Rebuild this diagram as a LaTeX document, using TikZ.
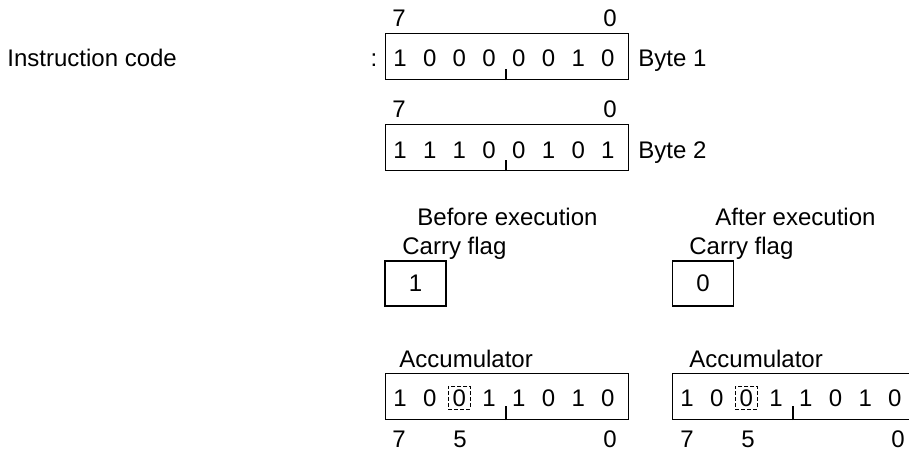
\documentclass[tikz,border=0pt]{standalone}
\usepackage{fontspec}
\setmainfont{Liberation Sans}
\usetikzlibrary{positioning}

\begin{document}
\begin{tikzpicture}[
    x=0.5pt, y=-0.5pt,
    font=\fontsize{12}{14}\selectfont,
    regbox/.style={draw, line width=0.6pt, anchor=north west, minimum width=121.25pt, minimum height=23pt, inner sep=0pt},
    flagbox/.style={draw, line width=0.6pt, minimum width=30.5pt, minimum height=22.5pt, inner sep=0pt},
    bit/.style={anchor=base, inner sep=0pt},
    txt/.style={anchor=base west, inner sep=0pt},
    markbox/.style={draw, dashed, dash pattern=on 2pt off 1pt, line width=0.5pt, minimum width=11pt, minimum height=11.5pt, inner sep=0pt},
    tick/.style={line width=0.6pt}
]
\useasboundingbox (0,0) rectangle (909,450);

% Instruction code, byte 1
\node[txt] (instr) at (7,66) {Instruction code};
\node[bit] (colon) at (374,66) {:};
\node[regbox] (byte1) at (385,33) {};
\node[bit] (b1hi) at (399,26) {7};
\node[bit] (b1lo) at (610,26) {0};
\foreach \b [count=\i from 0] in {1,0,0,0,0,0,1,0}
    \node[bit] (b1-\i) at (400+\i*29.7,66) {\b};
\draw[tick] ([xshift=60.5pt]byte1.south west) -- ++(0,-11);
\node[txt] (b1name) at (638,66) {Byte 1};

% Byte 2
\node[regbox] (byte2) at (385,124) {};
\node[bit] (b2hi) at (399,117) {7};
\node[bit] (b2lo) at (610,117) {0};
\foreach \b [count=\i from 0] in {1,1,1,0,0,1,0,1}
    \node[bit] (b2-\i) at (400+\i*29.7,158) {\b};
\draw[tick] ([xshift=60.5pt]byte2.south west) -- ++(0,-11);
\node[txt] (b2name) at (638,158) {Byte 2};

% Carry flag before / after
\node[txt] (before) at (417,225) {Before execution};
\node[txt] (cyb) at (402,254) {Carry flag};
\node[flagbox] (cyold) at (415.5,283.5) {1};
\node[txt] (after) at (715,225) {After execution};
\node[txt] (cya) at (689,254) {Carry flag};
\node[flagbox] (cynew) at (703,283.5) {0};

% Accumulator before
\node[txt] (accb) at (399,367) {Accumulator};
\node[regbox] (acc1) at (385,373) {};
\foreach \b [count=\i from 0] in {1,0,0,1,1,0,1,0}
    \node[bit] (a1-\i) at (400+\i*29.7,406) {\b};
\node[markbox] (mk1) at (a1-2.center) {};
\draw[tick] ([xshift=60.5pt]acc1.south west) -- ++(0,-14);
\node[bit] (a1hi) at (399,447) {7};
\node[bit] (a1mid) at (460,447) {5};
\node[bit] (a1lo) at (610,447) {0};

% Accumulator after
\node[txt] (acca) at (689,367) {Accumulator};
\node[regbox] (acc2) at (672,373) {};
\foreach \b [count=\i from 0] in {1,0,0,1,1,0,1,0}
    \node[bit] (a2-\i) at (687+\i*29.7,406) {\b};
\node[markbox] (mk2) at (a2-2.center) {};
\draw[tick] ([xshift=60.5pt]acc2.south west) -- ++(0,-14);
\node[bit] (a2hi) at (687,447) {7};
\node[bit] (a2mid) at (748,447) {5};
\node[bit] (a2lo) at (898,447) {0};

\end{tikzpicture}
\end{document}
